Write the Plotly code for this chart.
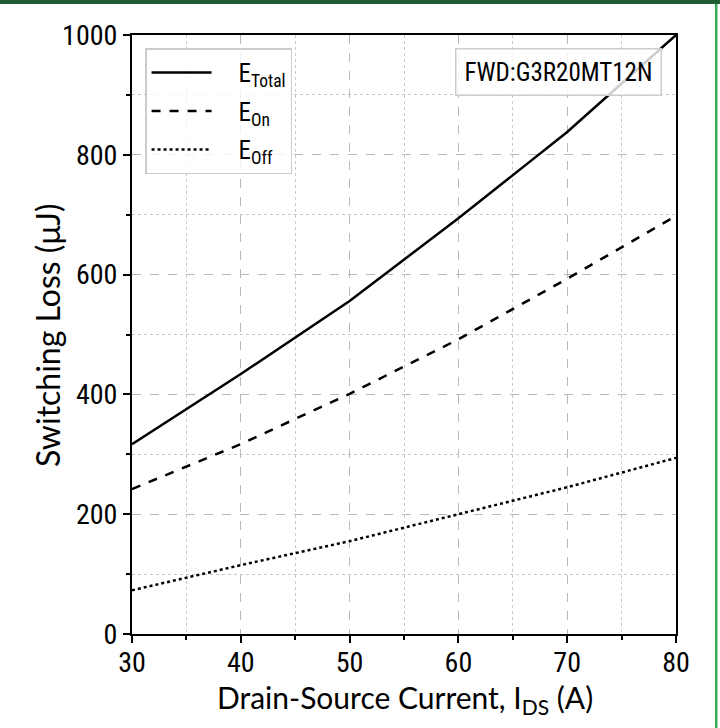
import plotly.graph_objects as go

current = [30, 40, 50, 60, 70, 80]
e_total = [317, 434, 556, 694, 838, 1000]
e_on = [242, 317, 401, 492, 593, 698]
e_off = [73, 115, 155, 200, 245, 294]

series = [
    ("\u2003E<sub>Total</sub>", e_total, "solid"),
    ("\u2003E<sub>On</sub>", e_on, "dash"),
    ("\u2003E<sub>Off</sub>", e_off, "dot"),
]

x_title = "Drain-Source Current, I<sub>DS</sub> (A)"
y_title = "Switching Loss (μJ)"
label_text = "FWD:G3R20MT12N"

COND = "Liberation Sans Narrow, Roboto Condensed, DejaVu Sans Condensed, sans-serif"
LATO = "Lato, Open Sans, sans-serif"

fig = go.Figure()
for i, (name, vals, dash) in enumerate(series):
    fig.add_trace(go.Scatter(x=current, y=vals, mode="lines", name=name,
                             legendgroup=f"g{i}",
                             line=dict(color="black", width=2.5, dash=dash)))

L, R, T, B = 132, 44, 35, 94
W, H = 720, 728
pw, ph = W - L - R, H - T - B


def px_x(p):
    return (p - L) / pw


def px_y(p):
    return 1 - (p - T) / ph


fig.update_layout(
    width=W, height=H,
    margin=dict(l=L, r=R, t=T, b=B),
    paper_bgcolor="white", plot_bgcolor="white",
    showlegend=True,
    legend=dict(x=0.024, y=0.978, xanchor="left", yanchor="top",
                bgcolor="rgba(255,255,255,0.8)", bordercolor="#cccccc", borderwidth=1.5,
                font=dict(family=COND, size=25, color="black"),
                itemwidth=60, tracegroupgap=3),
    font=dict(family=COND, color="black"),
)

fig.update_xaxes(
    range=[30, 80], dtick=10, tick0=30,
    showline=True, linecolor="black", linewidth=2, mirror=True,
    ticks="outside", ticklen=7, tickwidth=1.5, tickcolor="black",
    tickfont=dict(family=COND, size=28, color="black"),
    ticklabelstandoff=-5,
    showgrid=True, gridcolor="#b8b8b8", griddash="dash", gridwidth=1,
    minor=dict(dtick=5, ticks="outside", ticklen=4, tickcolor="black",
               showgrid=True, gridcolor="#c8c8c8", griddash="dot", gridwidth=1),
    zeroline=False,
)
fig.update_yaxes(
    range=[0, 1000], dtick=200, tick0=0,
    showline=True, linecolor="black", linewidth=2, mirror=True,
    ticks="outside", ticklen=7, tickwidth=1.5, tickcolor="black",
    tickfont=dict(family=COND, size=28, color="black"),
    showgrid=True, gridcolor="#b8b8b8", griddash="dash", gridwidth=1,
    minor=dict(dtick=100, ticks="outside", ticklen=4, tickcolor="black",
               showgrid=True, gridcolor="#c8c8c8", griddash="dot", gridwidth=1),
    zeroline=False,
)

fig.add_annotation(
    text=x_title, xref="paper", yref="paper",
    x=px_x(405), y=px_y(699), xanchor="center", yanchor="middle", showarrow=False,
    font=dict(family=LATO, size=30, color="black"),
)
fig.add_annotation(
    text=y_title, xref="paper", yref="paper", textangle=-90,
    x=px_x(47), y=px_y(335), xanchor="center", yanchor="middle", showarrow=False,
    font=dict(family=LATO, size=32, color="black"),
)

fig.add_annotation(
    text=label_text, xref="paper", yref="paper",
    x=0.974, y=0.978, xanchor="right", yanchor="top", showarrow=False,
    font=dict(family=COND, size=25, color="black"),
    bgcolor="rgba(255,255,255,0.8)", bordercolor="#cccccc", borderwidth=1.5,
    borderpad=8,
)

fig.add_shape(type="rect", xref="paper", yref="paper", layer="above",
              x0=px_x(0), x1=px_x(W), y0=px_y(4), y1=px_y(0),
              fillcolor="#1f5e33", line=dict(width=0))
fig.add_shape(type="rect", xref="paper", yref="paper", layer="above",
              x0=px_x(715), x1=px_x(717.5), y0=px_y(H), y1=px_y(4),
              fillcolor="#3aa857", line=dict(width=0))

fig.write_html("out.html", config={"displayModeBar": False},
               post_script="document.body.style.margin='0';document.body.style.overflow='hidden';")
